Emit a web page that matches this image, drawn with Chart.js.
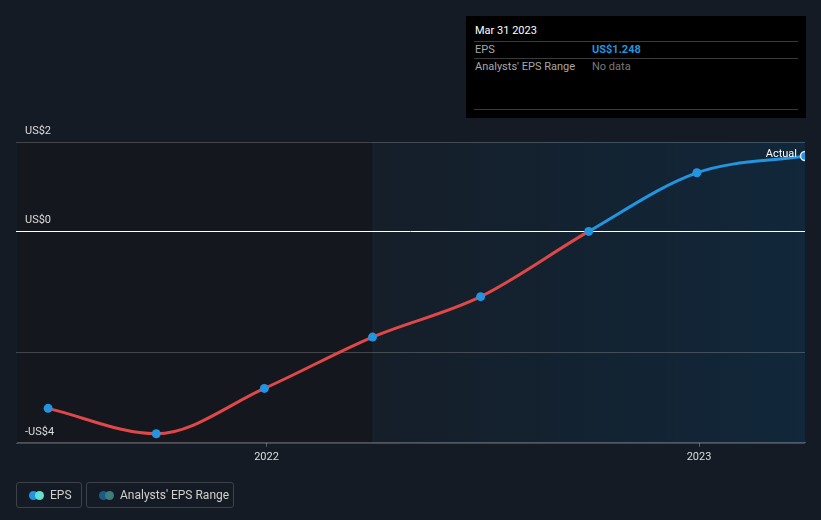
<!DOCTYPE html>
<html lang="en">
<head>
    <meta charset="UTF-8">
    <title>EPS</title>
    <script src="https://cdn.jsdelivr.net/npm/chart.js"></script>
    <style>
        body { margin: 0; background: #151b24; font-family: Roboto, sans-serif; }
        #wrap { position: relative; width: 821px; height: 520px; }
        #tip { position: absolute; left: 466px; top: 16px; width: 340px; height: 102px; background: #000; font-size: 11px; }
        #tip .hd { position: absolute; left: 9px; top: 8px; color: #fff; }
        #tip .ln { position: absolute; left: 8px; width: 324px; height: 1px; background: #3a3a3a; }
        #tip .k { position: absolute; left: 9px; color: #a8a8a8; }
        #tip .v { position: absolute; left: 126px; }
        .leg { position: absolute; top: 482px; height: 26px; border: 1px solid #3c414b; border-radius: 3px; color: #d0d0d0; font-size: 12px; box-sizing: border-box; }
        .leg span.t { position: absolute; top: 5px; }
        .dot { position: absolute; top: 8px; width: 9px; height: 9px; border-radius: 50%; }
    </style>
</head>
<body>
<div id="wrap">
    <canvas id="epsChart" width="821" height="520"></canvas>
    <div id="tip">
        <div class="hd">Mar 31 2023</div>
        <div class="ln" style="top:25px"></div>
        <div class="k" style="top:27px">EPS</div>
        <div class="v" style="top:27px;color:#2394df;font-weight:bold">US$1.248</div>
        <div class="ln" style="top:42px"></div>
        <div class="k" style="top:44px">Analysts' EPS Range</div>
        <div class="v" style="top:44px;color:#7a7a7a">No data</div>
        <div class="ln" style="top:93px"></div>
    </div>
    <div class="leg" style="left:16px;width:66px">
        <div class="dot" style="left:12px;background:#2394df"></div>
        <div class="dot" style="left:18px;background:#5fe0d2"></div>
        <span class="t" style="left:33px">EPS</span>
    </div>
    <div class="leg" style="left:86px;width:148px">
        <div class="dot" style="left:12px;background:#1d5a8a"></div>
        <div class="dot" style="left:18px;background:#3b7f7c"></div>
        <span class="t" style="left:33px">Analysts' EPS Range</span>
    </div>
</div>
<script>
    // quarter ends as decimal years
    const periods = [2021.5, 2021.75, 2022.0, 2022.25, 2022.5, 2022.75, 2023.0, 2023.25];
    const eps = [-2.93, -3.35, -2.6, -1.75, -1.08, 0.0, 0.97, 1.248];
    const yTicks = [-3.5, -2, 0, 1.48];
    const yTickLabels = ['-US$4', '', 'US$0', 'US$2'];
    const xTicks = [2022.005, 2023.005];
    const pastYearStart = 2022.25;

    const red = '#e04848';
    const blue = '#2394df';

    const bgPlugin = {
        id: 'bands',
        beforeDraw(chart) {
            const { ctx, chartArea: a, scales } = chart;
            const xs = scales.x.getPixelForValue(pastYearStart);
            ctx.save();
            ctx.fillStyle = '#14171e';
            ctx.fillRect(a.left, a.top, xs - a.left, a.bottom - a.top);
            const g = ctx.createLinearGradient(xs, 0, a.right, 0);
            g.addColorStop(0, '#151e29');
            g.addColorStop(1, '#11273a');
            ctx.fillStyle = g;
            ctx.fillRect(xs, a.top, a.right - xs, a.bottom - a.top);
            ctx.fillStyle = 'rgba(25,45,60,0.35)';
            ctx.fillRect(xs, a.top, 2, a.bottom - a.top);
            // grid lines over the bands
            scales.y.ticks.forEach(t => {
                const y = Math.round(scales.y.getPixelForValue(t.value)) + 0.5;
                ctx.strokeStyle = t.value === 0 ? '#ffffff' : 'rgba(255,255,255,0.2)';
                ctx.lineWidth = 1;
                ctx.beginPath();
                ctx.moveTo(a.left - 1, y);
                ctx.lineTo(a.right, y);
                ctx.stroke();
            });
            ctx.restore();
        },
        afterDatasetsDraw(chart) {
            const { ctx } = chart;
            const meta = chart.getDatasetMeta(0);
            const last = meta.data[meta.data.length - 1];
            ctx.save();
            ctx.font = '11px Roboto';
            ctx.fillStyle = '#ffffff';
            ctx.textAlign = 'right';
            ctx.textBaseline = 'middle';
            ctx.fillText('Actual', last.x - 8, last.y - 2);
            ctx.restore();
        }
    };

    const chart = new Chart(document.getElementById('epsChart'), {
        type: 'line',
        data: {
            datasets: [{
                label: 'EPS',
                data: periods.map((p, i) => ({ x: p, y: eps[i] })),
                borderWidth: 3,
                cubicInterpolationMode: 'monotone',
                segment: {
                    borderColor: c => c.p0.parsed.y < 0 ? red : blue
                },
                borderColor: red,
                pointRadius: 4.5,
                pointBackgroundColor: blue,
                pointBorderColor: c => c.dataIndex === eps.length - 1 ? '#d8ecff' : blue,
                pointBorderWidth: c => c.dataIndex === eps.length - 1 ? 1.5 : 0
            }]
        },
        options: {
            responsive: false,
            animation: false,
            layout: { padding: { top: 142, left: 1, right: 16, bottom: 52 } },
            plugins: { legend: { display: false }, tooltip: { enabled: false } },
            scales: {
                x: {
                    type: 'linear',
                    min: 2021.428,
                    max: 2023.25,
                    afterBuildTicks: s => { s.ticks = xTicks.map(v => ({ value: v })); },
                    grid: { drawOnChartArea: false, drawTicks: true, tickLength: 4, color: 'rgba(255,255,255,0.3)' },
                    border: { color: 'rgba(255,255,255,0.25)' },
                    ticks: {
                        color: '#dddddd',
                        font: { family: 'Roboto', size: 11 },
                        padding: 4,
                        callback: v => String(Math.floor(v))
                    }
                },
                y: {
                    min: -3.5,
                    max: 1.48,
                    afterBuildTicks: s => { s.ticks = yTicks.map(v => ({ value: v })); },
                    grid: { display: false, drawTicks: false },
                    border: { display: false },
                    ticks: {
                        mirror: true,
                        autoSkip: false,
                        padding: 8,
                        labelOffset: -11,
                        color: '#dddddd',
                        font: { family: 'Roboto', size: 11 },
                        callback: v => yTickLabels[yTicks.indexOf(v)]
                    }
                }
            }
        },
        plugins: [bgPlugin]
    });
</script>
</body>
</html>
